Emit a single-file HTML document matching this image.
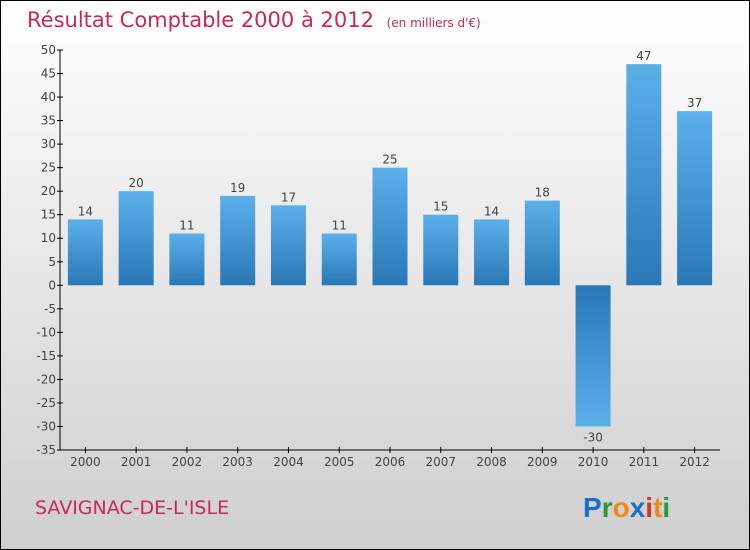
<!DOCTYPE html>
<html><head><meta charset="utf-8"><style>
body{margin:0}
#wrap{position:relative;width:750px;height:550px;box-sizing:border-box;border:1px solid #000;background:linear-gradient(#fff,#cfcfcf);overflow:hidden;font-family:"DejaVu Sans","Liberation Sans",sans-serif}
</style></head><body>
<div id="wrap">
<svg id="chart" width="750" height="550" style="position:absolute;left:-1px;top:-1px">
<defs>
<linearGradient id="gp" x1="0" y1="0" x2="0" y2="1"><stop offset="0" stop-color="#5cb0ea"/><stop offset="1" stop-color="#2a78b6"/></linearGradient>
<linearGradient id="gn" x1="0" y1="0" x2="0" y2="1"><stop offset="0" stop-color="#2a78b6"/><stop offset="1" stop-color="#5cb0ea"/></linearGradient>
</defs>
<text x="27" y="27" font-size="21" fill="#c8285a">Résultat Comptable 2000 à 2012 <tspan font-size="12" dx="6">(en milliers d'€)</tspan></text>
<text x="35" y="514" font-size="19" fill="#c8285a">SAVIGNAC-DE-L'ISLE</text>
<g font-size="28" font-weight="bold" font-family="Liberation Sans, sans-serif">
<text x="583" y="517"><tspan fill="#1a6fc8">P</tspan><tspan fill="#2a9a3a">r</tspan><tspan fill="#f08a10">o</tspan><tspan fill="#1a6fc8">x</tspan><tspan fill="#e03020">i</tspan><tspan fill="#f08a10">t</tspan><tspan fill="#2a9a3a">i</tspan></text>
</g>
<g id="plot"></g>
</svg>
</div>
<script>
const categories=["2000","2001","2002","2003","2004","2005","2006","2007","2008","2009","2010","2011","2012"];
const values=[14,20,11,19,17,11,25,15,14,18,-30,47,37];
const yTicks=[50,45,40,35,30,25,20,15,10,5,0,-5,-10,-15,-20,-25,-30,-35];
const X0=60,X1=720,Y0=50,Y1=450,VMAX=50,VMIN=-35;
const y=v=>Y0+(VMAX-v)*(Y1-Y0)/(VMAX-VMIN);
const band=(X1-X0)/categories.length;
const x=i=>X0+(i+0.5)*band;
const NS="http://www.w3.org/2000/svg";
const g=document.getElementById('plot');
function mk(t,a){const e=document.createElementNS(NS,t);for(const k in a)e.setAttribute(k,a[k]);g.appendChild(e);return e;}
let ax=mk('line',{x1:X0,y1:Y0,x2:X0,y2:Y1,stroke:'#000'});


let bx=mk('line',{x1:X0,y1:Y1,x2:X1,y2:Y1,stroke:'#000'});


yTicks.forEach(v=>{
 mk('line',{x1:X0-3,x2:X0+3,y1:y(v),y2:y(v),stroke:'#000'});
 const t=mk('text',{x:X0-4,y:y(v)+4,'text-anchor':'end','font-size':12,fill:'#444'});t.textContent=v;
 
 
});
categories.forEach((c,i)=>{
 mk('line',{x1:x(i),x2:x(i),y1:Y1-3,y2:Y1+3,stroke:'#000'});
 const t=mk('text',{x:x(i),y:Y1+16,'text-anchor':'middle','font-size':12,fill:'#444'});t.textContent=c;
 
 
 const v=values[i],w=35;
 const top=Math.min(y(v),y(0)),h=Math.abs(y(v)-y(0));
 const r=mk('rect',{x:x(i)-w/2,y:top,width:w,height:h,fill:v>=0?'url(#gp)':'url(#gn)'});
 
 
 const l=mk('text',{x:x(i),y:v>=0?y(v)-4:y(v)+15,'text-anchor':'middle','font-size':12,fill:'#444'});l.textContent=v;
 
 
});
</script>
</body></html>
